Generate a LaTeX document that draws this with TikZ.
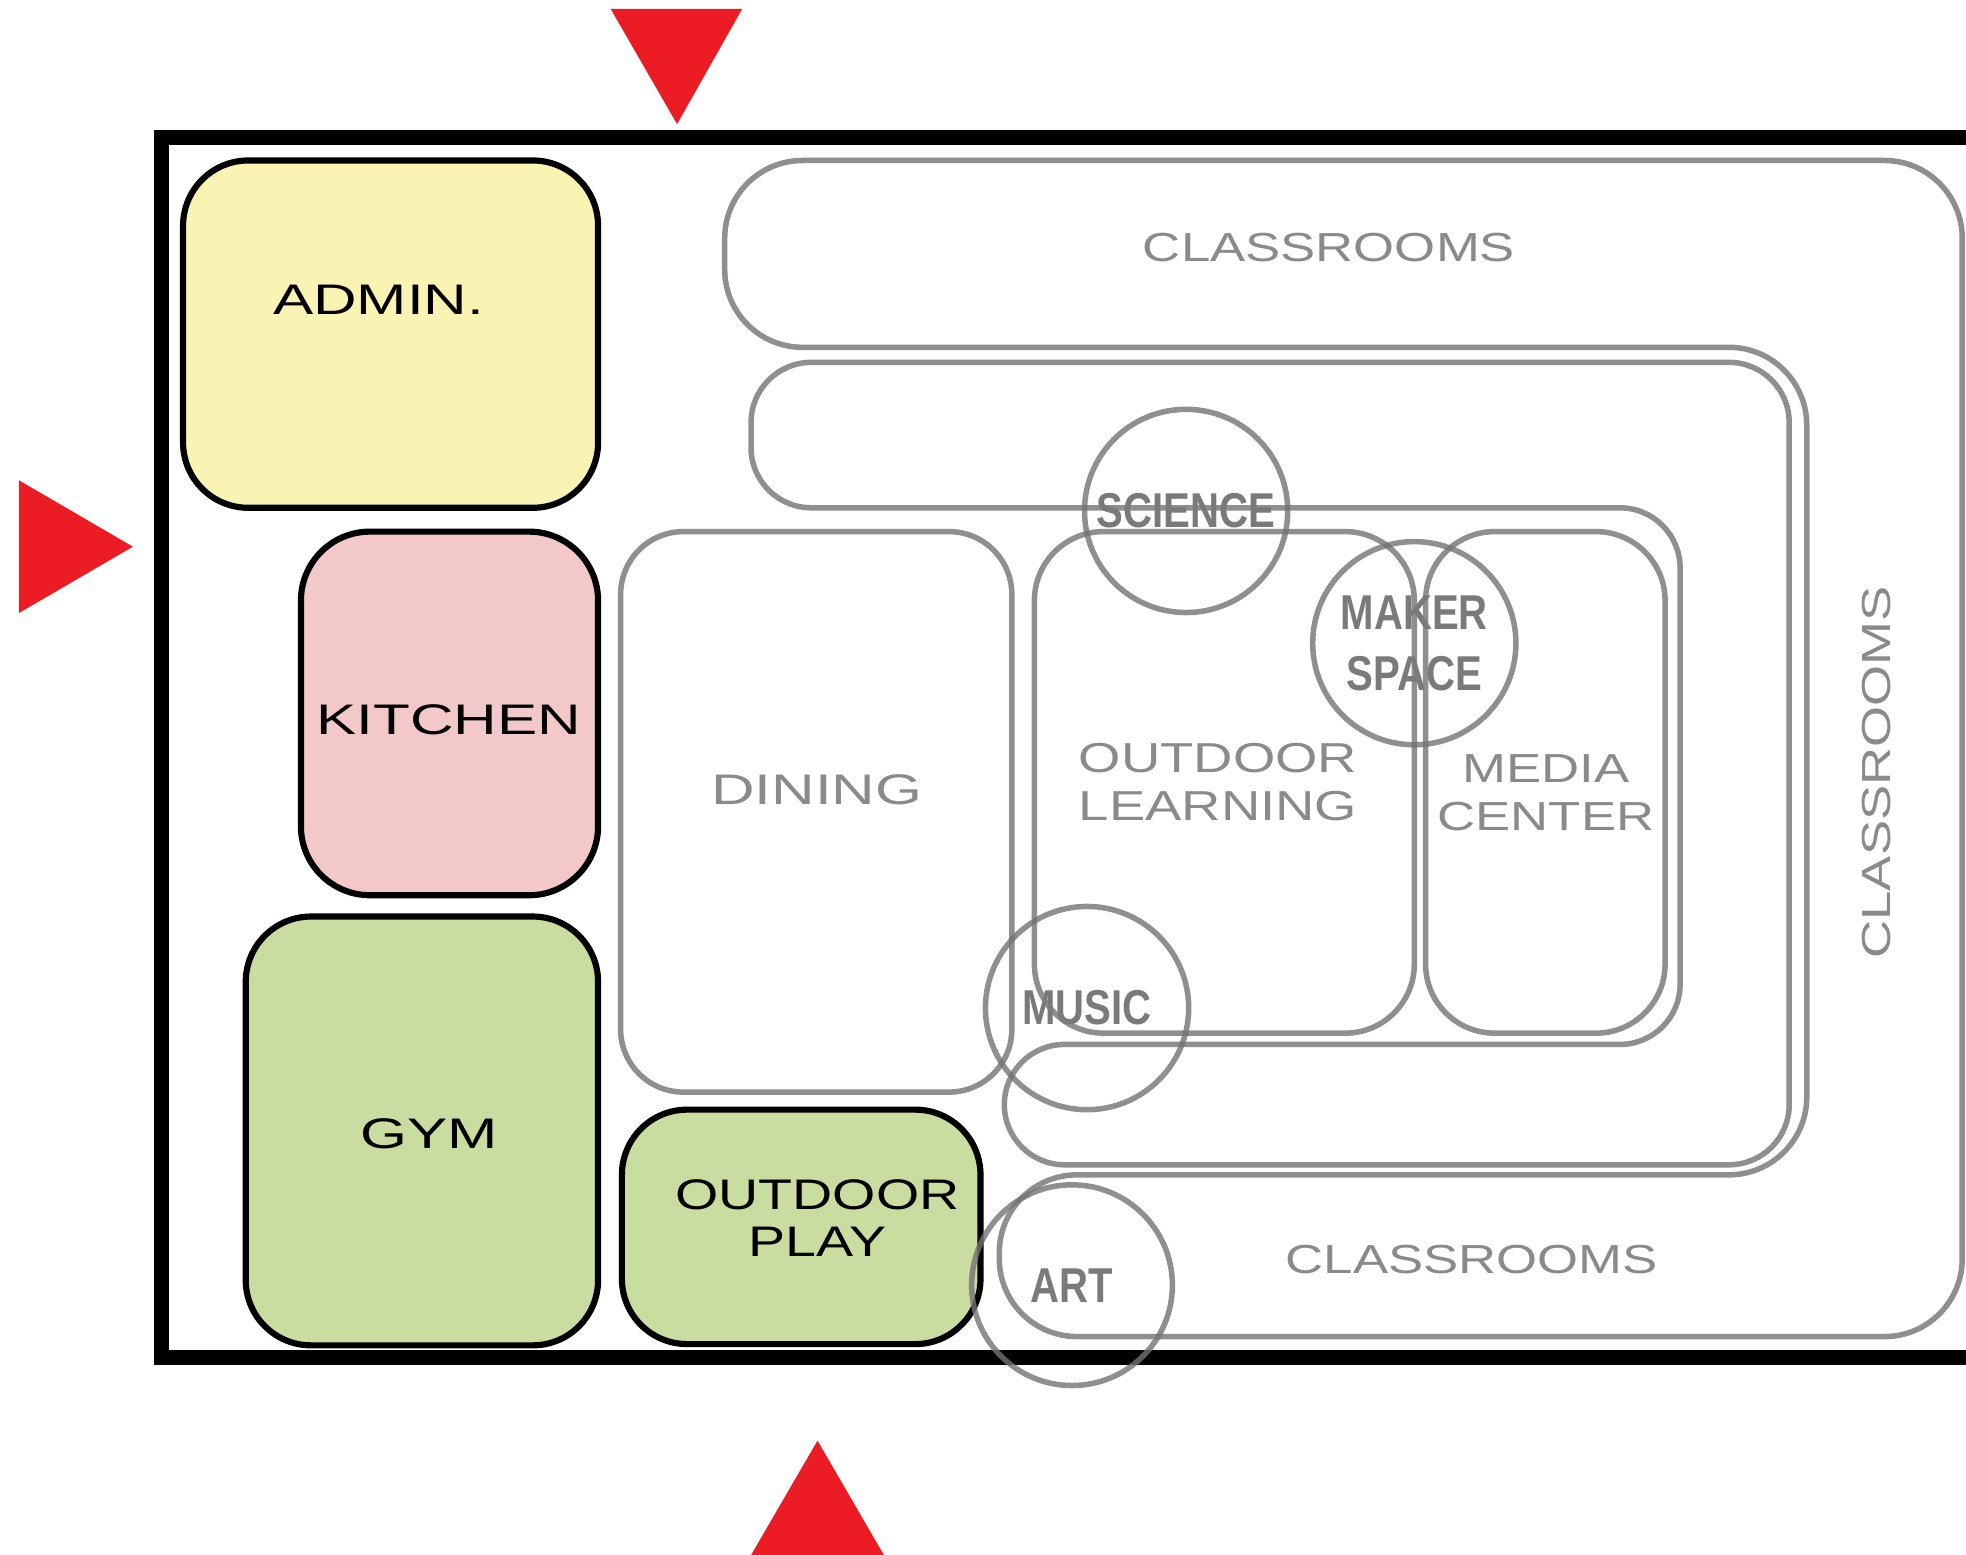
\documentclass[tikz,border=0pt]{standalone}
\usepackage{fontspec}
\setmainfont{Liberation Sans}
\newfontfamily\widesans[FakeStretch=1.41]{Liberation Sans}
\newfontfamily\roomsans[FakeStretch=1.30]{Liberation Sans}
\newfontfamily\studiosans[FakeStretch=0.82]{Liberation Sans}
\definecolor{adminyellow}{HTML}{F9F4B4}
\definecolor{kitchenpink}{HTML}{F2C9C8}
\definecolor{playgreen}{HTML}{C9DDA0}
\definecolor{wallgrey}{HTML}{737373}
\definecolor{signred}{HTML}{EC1C24}

\begin{document}
\begin{tikzpicture}[x=0.01cm, y=-0.01cm,
    room/.style={draw=black, line width=1.4pt, rounded corners=5.2mm},
    wing/.style={draw=wallgrey, draw opacity=0.8, line width=1.25pt},
    studio/.style={circle, draw=wallgrey, draw opacity=0.8, line width=1.25pt, minimum size=16.2mm, inner sep=0pt, text=black!52, align=center, font=\studiosans\bfseries\fontsize{11.1}{13.8}\selectfont},
    darklabel/.style={inner sep=0pt, text=black, align=center, font=\widesans\fontsize{9.7}{10.6}\selectfont},
    greylabel/.style={inner sep=0pt, text=black!46, align=center, font=\roomsans\fontsize{9.2}{10.8}\selectfont},
    doorway/.style={fill=signred}]
    \useasboundingbox (0,0) rectangle (1568,1239.5);

    \draw[room, fill=adminyellow] (146,128) rectangle (477,405);
    \draw[room, fill=kitchenpink, rounded corners=5.5mm] (240,424) rectangle (477,714);
    \draw[room, fill=playgreen] (196,731) rectangle (477,1073);
    \draw[room, fill=playgreen] (496,885) rectangle (782,1072);

    \draw[line width=3.4pt, line join=miter] (1600,110) -- (129,110) -- (129,1083) -- (1600,1083);

    \draw[wing, rounded corners=5mm] (495,424) rectangle (807,871);
    \draw[wing, rounded corners=5.5mm] (825,424) rectangle (1128,824);
    \draw[wing, rounded corners=5.5mm] (1137,424) rectangle (1328,824);
    \draw[wing, rounded corners=6.2mm] (1000,128) -- (1565,128) -- (1565,1066) -- (797,1066) -- (797,937) -- (1441,937) -- (1441,277) -- (578,277) -- (578,128) -- cycle;
    \draw[wing, rounded corners=4.8mm] (1000,289) -- (1427,289) -- (1427,929) -- (801,929) -- (801,833) -- (1340,833) -- (1340,405) -- (599,405) -- (599,289) -- cycle;

    \node[studio] (science) at (946,407.5) {SCIENCE};
    \node[studio] (maker) at (1128,513) {MAKER\\SPACE};
    \node[studio] (music) at (867,804) {MUSIC};
    \node[studio, minimum size=16mm] (art) at (855,1025) {ART};

    \node[darklabel, anchor=base] (admin) at (302,251) {ADMIN.};
    \node[darklabel, anchor=base] (kitchen) at (358,586) {KITCHEN};
    \node[darklabel, anchor=base] (gym) at (342.5,916) {GYM};
    \node[darklabel, font=\roomsans\fontsize{9.7}{10.6}\selectfont] (play) at (652,971.4) {OUTDOOR\\PLAY};

    \node[greylabel, anchor=base] (north) at (1060,208.7) {CLASSROOMS};
    \node[greylabel, anchor=base] (south) at (1174,1015.7) {CLASSROOMS};
    \node[greylabel, rotate=90] (east) at (1497,616) {CLASSROOMS};
    \node[greylabel, anchor=base, font=\widesans\fontsize{9.7}{10.6}\selectfont] (dining) at (651.5,641.4) {DINING};
    \node[greylabel, font=\roomsans\fontsize{9.5}{11}\selectfont] (learning) at (971.5,623.6) {OUTDOOR\\LEARNING};
    \node[greylabel] (media) at (1233,632.5) {MEDIA\\CENTER};

    \fill[doorway] (487,7) -- (592,7) -- (540,99) -- cycle;
    \fill[doorway] (15,383) -- (106,436) -- (15,489) -- cycle;
    \fill[doorway] (652,1149) -- (706,1242) -- (598,1242) -- cycle;
\end{tikzpicture}
\end{document}
